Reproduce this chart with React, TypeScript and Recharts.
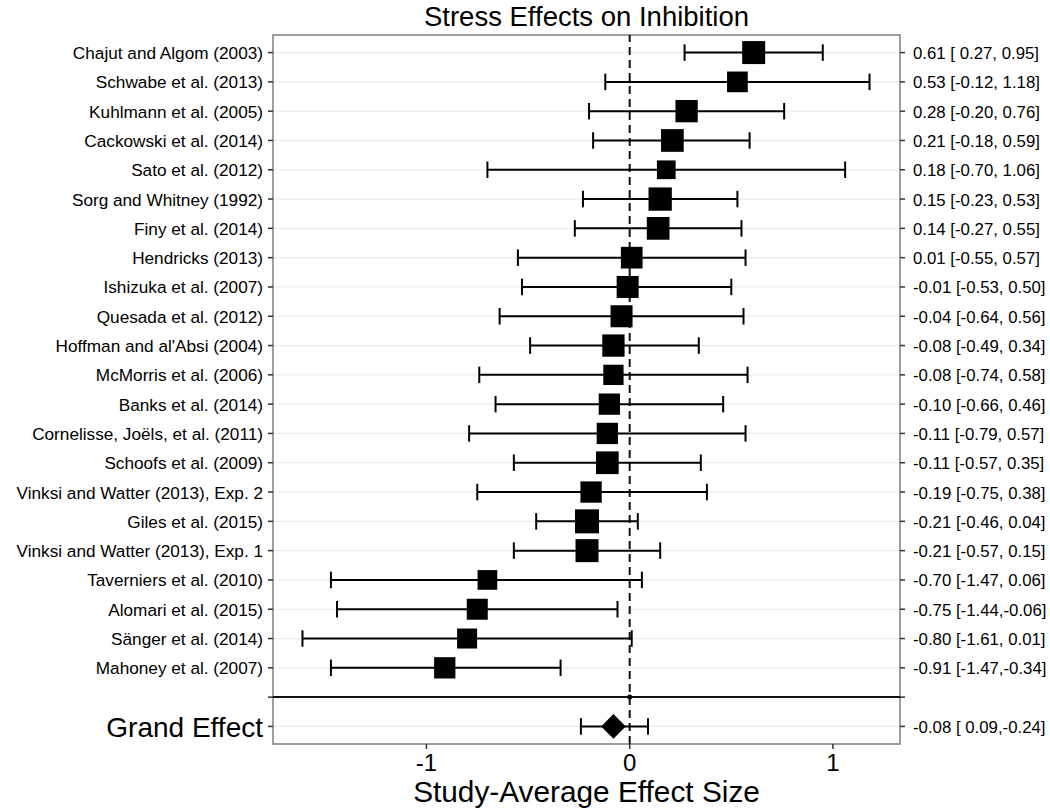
import React from 'react';
import {
  ScatterChart,
  Scatter,
  XAxis,
  YAxis,
  CartesianGrid,
  ReferenceLine,
  ReferenceArea,
  ErrorBar,
  Label,
} from 'recharts';

// ---------- data ----------
const studies = [
  'Chajut and Algom (2003)',
  'Schwabe et al. (2013)',
  'Kuhlmann et al. (2005)',
  'Cackowski et al. (2014)',
  'Sato et al. (2012)',
  'Sorg and Whitney (1992)',
  'Finy et al. (2014)',
  'Hendricks (2013)',
  'Ishizuka et al. (2007)',
  'Quesada et al. (2012)',
  "Hoffman and al'Absi (2004)",
  'McMorris et al. (2006)',
  'Banks et al. (2014)',
  'Cornelisse, Joëls, et al. (2011)',
  'Schoofs et al. (2009)',
  'Vinksi and Watter (2013), Exp. 2',
  'Giles et al. (2015)',
  'Vinksi and Watter (2013), Exp. 1',
  'Taverniers et al. (2010)',
  'Alomari et al. (2015)',
  'Sänger et al. (2014)',
  'Mahoney et al. (2007)',
];

const estimates = [
  0.61, 0.53, 0.28, 0.21, 0.18, 0.15, 0.14, 0.01, -0.01, -0.04, -0.08, -0.08,
  -0.1, -0.11, -0.11, -0.19, -0.21, -0.21, -0.7, -0.75, -0.8, -0.91,
];

const lowerCI = [
  0.27, -0.12, -0.2, -0.18, -0.7, -0.23, -0.27, -0.55, -0.53, -0.64, -0.49,
  -0.74, -0.66, -0.79, -0.57, -0.75, -0.46, -0.57, -1.47, -1.44, -1.61, -1.47,
];

const upperCI = [
  0.95, 1.18, 0.76, 0.59, 1.06, 0.53, 0.55, 0.57, 0.5, 0.56, 0.34, 0.58, 0.46,
  0.57, 0.35, 0.38, 0.04, 0.15, 0.06, -0.06, 0.01, -0.34,
];

// relative study weight (drives the square size)
const weights = [
  2.3, 2.07, 2.23, 2.27, 1.87, 2.33, 2.27, 2.17, 2.2, 2.2, 2.23, 2.03, 2.13,
  2.13, 2.27, 2.13, 2.4, 2.3, 1.97, 2.1, 2.0, 2.13,
];

const statLabels = [
  '0.61 [ 0.27, 0.95]',
  '0.53 [-0.12, 1.18]',
  '0.28 [-0.20, 0.76]',
  '0.21 [-0.18, 0.59]',
  '0.18 [-0.70, 1.06]',
  '0.15 [-0.23, 0.53]',
  '0.14 [-0.27, 0.55]',
  '0.01 [-0.55, 0.57]',
  '-0.01 [-0.53, 0.50]',
  '-0.04 [-0.64, 0.56]',
  '-0.08 [-0.49, 0.34]',
  '-0.08 [-0.74, 0.58]',
  '-0.10 [-0.66, 0.46]',
  '-0.11 [-0.79, 0.57]',
  '-0.11 [-0.57, 0.35]',
  '-0.19 [-0.75, 0.38]',
  '-0.21 [-0.46, 0.04]',
  '-0.21 [-0.57, 0.15]',
  '-0.70 [-1.47, 0.06]',
  '-0.75 [-1.44,-0.06]',
  '-0.80 [-1.61, 0.01]',
  '-0.91 [-1.47,-0.34]',
];

const grandLabel = 'Grand Effect';
const grandEstimate = -0.08;
const grandLower = -0.24;
const grandUpper = 0.09;
const grandStatLabel = '-0.08 [ 0.09,-0.24]';

const xTicks = [-1, 0, 1];
const title = 'Stress Effects on Inhibition';
const xTitle = 'Study-Average Effect Size';

// ---------- derived tables ----------
const sepRow = studies.length; // blank separator level
const grandRow = studies.length + 1;
const leftLabels = [...studies, '', grandLabel];
const rightLabels = [...statLabels, '', grandStatLabel];
const yTicks = leftLabels.map((_, i) => i);

const studyData = studies.map((name, i) => ({
  name,
  x: estimates[i],
  y: i,
  err: [estimates[i] - lowerCI[i], upperCI[i] - estimates[i]],
  w: weights[i],
}));

const grandData = [
  {
    name: grandLabel,
    x: grandEstimate,
    y: grandRow,
    err: [grandEstimate - grandLower, grandUpper - grandEstimate],
  },
];

const sepData = [{ x: 0, y: sepRow }];

const X_DOMAIN: [number, number] = [-1.755, 1.33];
const Y_DOMAIN: [number, number] = [-0.6, 23.6];

const FONT = '"Liberation Sans", Arial, Helvetica, sans-serif';

// ---------- shapes & ticks ----------
const SquareShape = (props: any) => {
  const { cx, cy, payload } = props;
  if (cx == null || cy == null) return null;
  const s = payload.w * 10;
  return <rect x={cx - s / 2} y={cy - s / 2} width={s} height={s} fill="#000" />;
};

const DiamondShape = (props: any) => {
  const { cx, cy } = props;
  if (cx == null || cy == null) return null;
  const h = 12.3;
  return (
    <polygon
      points={`${cx},${cy - h} ${cx + h},${cy} ${cx},${cy + h} ${cx - h},${cy}`}
      fill="#000"
    />
  );
};

const DotShape = (props: any) => {
  const { cx, cy } = props;
  if (cx == null || cy == null) return null;
  return <circle cx={cx} cy={cy} r={2.5} fill="#000" />;
};

const LeftTick = (props: any) => {
  const { x, y, payload } = props;
  const label = leftLabels[payload.value] ?? '';
  const big = payload.value === grandRow;
  return (
    <text
      x={x}
      y={y}
      dy={big ? 11 : 6.5}
      textAnchor="end"
      fontSize={big ? 28 : 17.2}
      fontFamily={FONT}
      fill="#000"
    >
      {label}
    </text>
  );
};

const RightTick = (props: any) => {
  const { x, y, payload } = props;
  const label = rightLabels[payload.value] ?? '';
  return (
    <text x={x} y={y} dy={6.5} textAnchor="start" fontSize={16.8} fontFamily={FONT} fill="#000">
      {label}
    </text>
  );
};

const BottomTick = (props: any) => {
  const { x, y, payload } = props;
  return (
    <text x={x} y={y} dy={20} textAnchor="middle" fontSize={24} fontFamily={FONT} fill="#000">
      {payload.value}
    </text>
  );
};

export default function App() {
  return (
    <div style={{ position: 'absolute', left: 0, top: 0, width: 1050, height: 810, background: '#fff' }}>
      <ScatterChart
        width={1050}
        height={810}
        margin={{ top: 35, right: 0, bottom: 0, left: 0 }}
      >
        <CartesianGrid
          yAxisId="left"
          vertical={false}
          stroke="#ebebeb"
          strokeWidth={1.2}
        />
        <XAxis
          type="number"
          dataKey="x"
          domain={X_DOMAIN}
          allowDataOverflow
          ticks={xTicks}
          height={66}
          axisLine={false}
          tickSize={5}
          tickMargin={2}
          tickLine={{ stroke: '#333', strokeWidth: 1.5 }}
          tick={<BottomTick />}
        >
          <Label
            value={xTitle}
            position="insideBottom"
            offset={8}
            fontSize={29.8}
            fontFamily={FONT}
            fill="#000"
          />
        </XAxis>
        <YAxis
          yAxisId="left"
          type="number"
          dataKey="y"
          domain={Y_DOMAIN}
          allowDataOverflow
          reversed
          ticks={yTicks}
          interval={0}
          width={273}
          axisLine={false}
          tickSize={5}
          tickMargin={5}
          tickLine={{ stroke: '#333', strokeWidth: 1.5 }}
          tick={<LeftTick />}
        />
        <YAxis
          yAxisId="right"
          orientation="right"
          type="number"
          dataKey="y"
          domain={Y_DOMAIN}
          allowDataOverflow
          reversed
          ticks={yTicks}
          interval={0}
          width={150}
          axisLine={false}
          tickSize={5}
          tickMargin={8}
          tickLine={{ stroke: '#333', strokeWidth: 1.5 }}
          tick={<RightTick />}
        />
        <ReferenceArea
          yAxisId="left"
          x1={X_DOMAIN[0]}
          x2={X_DOMAIN[1]}
          y1={Y_DOMAIN[0]}
          y2={Y_DOMAIN[1]}
          fill="none"
          fillOpacity={0}
          stroke="#7f7f7f"
          strokeWidth={1.5}
          ifOverflow="visible"
        />
        <ReferenceLine
          yAxisId="left"
          y={sepRow}
          stroke="#111"
          strokeWidth={2}
        />
        <ReferenceLine
          yAxisId="left"
          x={0}
          stroke="#111"
          strokeWidth={2}
          strokeDasharray="8 5"
        />
        <Scatter
          yAxisId="left"
          data={studyData}
          shape={<SquareShape />}
          isAnimationActive={false}
        >
          <ErrorBar
            dataKey="err"
            direction="x"
            width={8.25}
            stroke="#000"
            strokeWidth={2}
            isAnimationActive={false}
          />
        </Scatter>
        <Scatter
          yAxisId="left"
          data={grandData}
          shape={<DiamondShape />}
          isAnimationActive={false}
        >
          <ErrorBar
            dataKey="err"
            direction="x"
            width={8.25}
            stroke="#000"
            strokeWidth={2}
            isAnimationActive={false}
          />
        </Scatter>
        <Scatter
          yAxisId="right"
          data={sepData}
          shape={<DotShape />}
          isAnimationActive={false}
        />
      </ScatterChart>
      <svg
        width={1050}
        height={48}
        style={{ position: 'absolute', left: 0, top: 0, pointerEvents: 'none' }}
      >
        <text x={586.5} y={25.5} textAnchor="middle" fontSize={27.5} fontFamily={FONT} fill="#000">
          {title}
        </text>
      </svg>
    </div>
  );
}
